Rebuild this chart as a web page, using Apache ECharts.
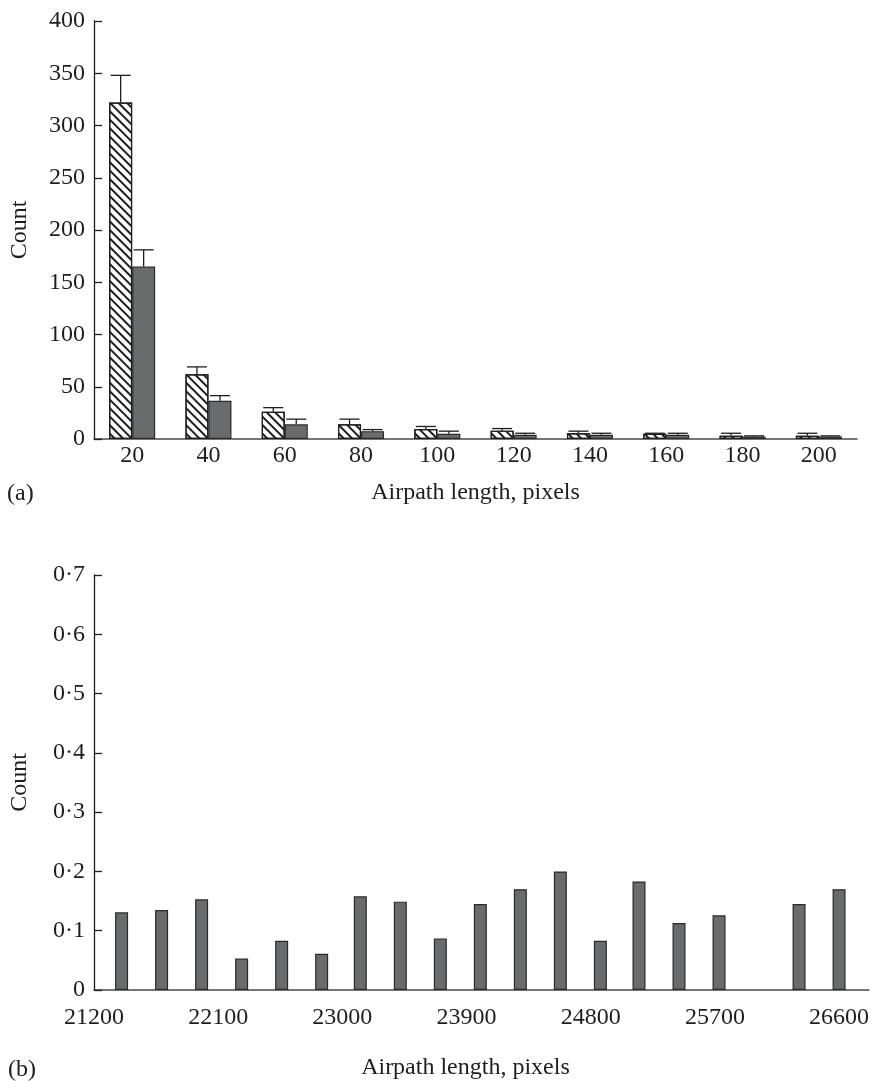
<!DOCTYPE html>
<html>
<head>
<meta charset="utf-8">
<script src="https://cdn.jsdelivr.net/npm/echarts@6/dist/echarts.min.js"></script>
<style>
  html, body { margin: 0; padding: 0; background: #fff; }
  #chart { width: 872px; height: 1081px; }
</style>
</head>
<body>
<div id="chart"></div>
<script>
// Panel (a): counts per airpath-length bin, two groups, mean with upper standard error
const lengthBins = ['20', '40', '60', '80', '100', '120', '140', '160', '180', '200'];
const hatchedCounts = [322, 62, 26, 14, 9.5, 8, 5.5, 5, 3, 3];
const hatchedErr    = [26, 7, 4, 5, 2.5, 2, 2, 0.5, 2.5, 2.5];
const solidCounts   = [165, 36.5, 14, 7.5, 5, 4, 4, 4, 2.5, 2.5];
const solidErr      = [16, 5, 5, 1.5, 2.5, 1.5, 1.5, 1.5, 0.5, 0.5];
const countTicksA   = [0, 50, 100, 150, 200, 250, 300, 350, 400];

// Panel (b): counts for long airpaths
const airpathLengths = [21400, 21690, 21980, 22270, 22560, 22850, 23130, 23420, 23710, 24000,
                        24290, 24580, 24870, 25150, 25440, 25730, 26020, 26310, 26600];
const airpathCounts  = [0.131, 0.135, 0.153, 0.053, 0.083, 0.061, 0.158, 0.149, 0.087, 0.145,
                        0.170, 0.200, 0.083, 0.183, 0.113, 0.126, 0, 0.145, 0.170];
const lengthTicksB   = [21200, 22100, 23000, 23900, 24800, 25700, 26600];
const countTicksB    = ['0', '0·1', '0·2', '0·3', '0·4', '0·5', '0·6', '0·7'];

const FONT = '"Liberation Serif", "Times New Roman", serif';
const INK = '#1e1e1e';
const BAR_W = 23;
const CAP_W = 20;

const textStyle = { fontFamily: FONT, fontSize: 24, color: INK };

function errorBars(side) {
  return function (params, api) {
    const i = api.value(0);
    const mean = api.value(1);
    const err = api.value(2);
    const base = api.coord([i, mean]);
    const top = api.coord([i, mean + err]);
    const x = base[0] + side * BAR_W / 2;
    const style = { stroke: INK, lineWidth: 1.3 };
    return {
      type: 'group',
      children: [
        { type: 'line', shape: { x1: x, y1: base[1], x2: x, y2: top[1] }, style: style },
        { type: 'line', shape: { x1: x - CAP_W / 2, y1: top[1], x2: x + CAP_W / 2, y2: top[1] }, style: style }
      ]
    };
  };
}

const yAxisCommon = {
  type: 'value',
  name: 'Count',
  nameLocation: 'middle',
  nameGap: 62,
  nameTextStyle: textStyle,
  axisLine: { show: true, lineStyle: { color: INK, width: 1.3 } },
  axisTick: { show: true, inside: true, length: 8, lineStyle: { color: INK, width: 1.3 } },
  axisLabel: Object.assign({ margin: 9 }, textStyle),
  splitLine: { show: false }
};

const option = {
  animation: false,
  backgroundColor: '#fff',
  title: [
    { text: '(a)', left: 7, top: 482, padding: 0, textStyle: Object.assign({ fontWeight: 'normal' }, textStyle) },
    { text: '(b)', left: 8, top: 1058, padding: 0, textStyle: Object.assign({ fontWeight: 'normal' }, textStyle) }
  ],
  grid: [
    { left: 92, top: 21, width: 765, height: 418 },
    { left: 92, top: 575, width: 780, height: 415 }
  ],
  xAxis: [
    {
      gridIndex: 0,
      type: 'category',
      data: lengthBins,
      name: 'Airpath length, pixels',
      nameLocation: 'middle',
      nameGap: 42,
      nameTextStyle: textStyle,
      axisLine: { lineStyle: { color: '#4a4a4a', width: 1.6 } },
      axisTick: { show: false },
      axisLabel: Object.assign({ margin: 5 }, textStyle)
    },
    {
      gridIndex: 1,
      type: 'value',
      min: 21200,
      max: 26816,
      interval: 900,
      name: 'Airpath length, pixels',
      nameLocation: 'middle',
      nameGap: 66,
      nameTextStyle: Object.assign({ padding: [0, 32, 0, 0] }, textStyle),
      axisLine: { show: true, lineStyle: { color: '#4a4a4a', width: 1.6 } },
      axisTick: { show: false },
      splitLine: { show: false },
      axisLabel: Object.assign({
        margin: 16,
        showMaxLabel: false,
        formatter: function (v) { return lengthTicksB.indexOf(v) >= 0 ? String(v) : ''; }
      }, textStyle)
    }
  ],
  yAxis: [
    Object.assign({}, yAxisCommon, {
      gridIndex: 0,
      min: countTicksA[0],
      max: countTicksA[countTicksA.length - 1],
      interval: countTicksA[1] - countTicksA[0]
    }),
    Object.assign({}, yAxisCommon, {
      gridIndex: 1,
      min: 0,
      max: 0.7,
      interval: 0.1,
      axisLabel: Object.assign({
        margin: 9,
        formatter: function (v) { return countTicksB[Math.round(v * 10)]; }
      }, textStyle)
    })
  ],
  series: [
    {
      type: 'bar',
      xAxisIndex: 0, yAxisIndex: 0,
      data: hatchedCounts,
      barWidth: BAR_W,
      barGap: '0%',
      itemStyle: {
        color: '#fff',
        borderColor: INK,
        borderWidth: 1.2,
        decal: {
          symbol: 'rect',
          symbolSize: 1,
          dashArrayX: [1, 0],
          dashArrayY: [1.6, 3.2],
          rotation: Math.PI / 4,
          color: INK
        }
      }
    },
    {
      type: 'bar',
      xAxisIndex: 0, yAxisIndex: 0,
      data: solidCounts,
      barWidth: BAR_W,
      barGap: '0%',
      itemStyle: { color: '#6a6b6c', borderColor: '#2a2a2a', borderWidth: 1.2 }
    },
    {
      type: 'custom',
      xAxisIndex: 0, yAxisIndex: 0,
      z: 3,
      renderItem: errorBars(-1),
      data: hatchedCounts.map(function (v, i) { return [i, v, hatchedErr[i]]; })
    },
    {
      type: 'custom',
      xAxisIndex: 0, yAxisIndex: 0,
      z: 3,
      renderItem: errorBars(1),
      data: solidCounts.map(function (v, i) { return [i, v, solidErr[i]]; })
    },
    {
      type: 'bar',
      xAxisIndex: 1, yAxisIndex: 1,
      // an empty bin draws no bar
      data: airpathLengths.map(function (x, i) { return [x, airpathCounts[i] === 0 ? '-' : airpathCounts[i]]; }),
      barWidth: 13,
      itemStyle: { color: '#6a6b6c', borderColor: '#2a2a2a', borderWidth: 1.2 }
    }
  ]
};

const chart = echarts.init(document.getElementById('chart'), null, { renderer: 'canvas' });
chart.setOption(option);
</script>
</body>
</html>
